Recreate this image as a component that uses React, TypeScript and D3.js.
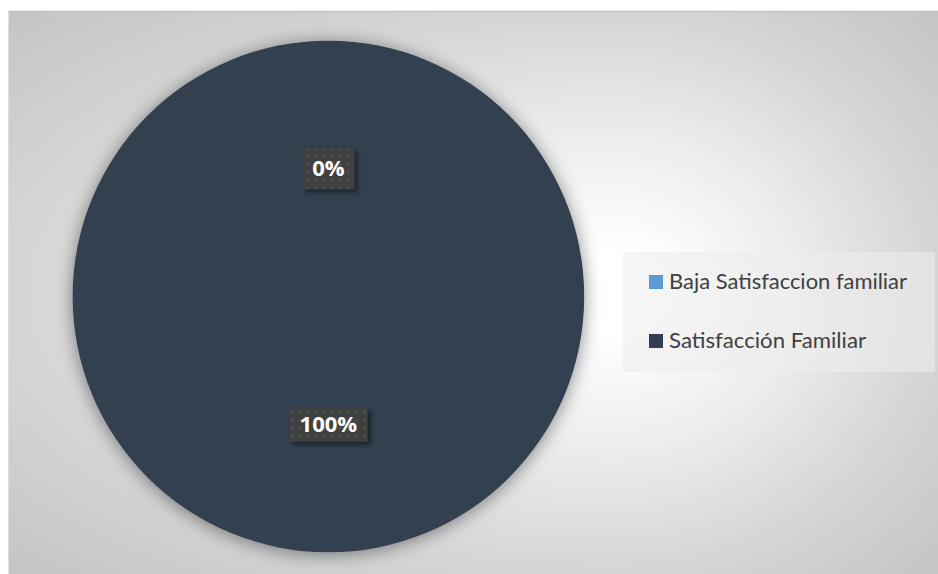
import React from "react";
import * as d3 from "d3";

const categories = ["Baja Satisfaccion familiar", "Satisfacción Familiar"];
const values = [0, 100];
const labels = ["0%", "100%"];
const colors = ["#5b9bd5", "#333f50"];

const W = 938;
const H = 574;
const CX = 328.4;
const CY = 296.5;
const R = 255.8;
const LABEL_BOX_H = [41, 34];
const LEGEND_TEXT_W = [238, 197];

const gCx = 615;
const gCy = 292;
const K = 1.42;

export default function App() {
  const pie = d3.pie<number>().value((d) => d).sort(null);
  const arcs = pie(values);
  const arc = d3.arc<d3.PieArcDatum<number>>().innerRadius(0).outerRadius(R);

  const quads = [
    { id: "tl", x: 8, y: 11, w: gCx - 8, h: gCy - 11, rx: gCx - 8, ry: gCy - 11 },
    { id: "tr", x: gCx, y: 11, w: W - gCx, h: gCy - 11, rx: W - gCx, ry: gCy - 11 },
    { id: "bl", x: 8, y: gCy, w: gCx - 8, h: H - gCy, rx: gCx - 8, ry: H - gCy },
    { id: "br", x: gCx, y: gCy, w: W - gCx, h: H - gCy, rx: W - gCx, ry: H - gCy },
  ];

  const stops = (
    <>
      <stop offset="0" stopColor="#ffffff" />
      <stop offset="0.1" stopColor="#ffffff" />
      <stop offset="0.4" stopColor="#ececec" />
      <stop offset="0.7" stopColor="#d5d5d5" />
      <stop offset="1" stopColor="#c4c4c4" />
    </>
  );

  return (
    <svg
      width={W}
      height={H}
      style={{ position: "fixed", left: 0, top: 0, display: "block" }}
      xmlns="http://www.w3.org/2000/svg"
    >
      <defs>
        {quads.map((q) => (
          <radialGradient
            key={q.id}
            id={"bg-" + q.id}
            gradientUnits="userSpaceOnUse"
            cx={0}
            cy={0}
            r={1}
            gradientTransform={`translate(${gCx},${gCy}) scale(${q.rx * K},${q.ry * K})`}
          >
            {stops}
          </radialGradient>
        ))}
        <filter id="pieShadow" x="-20%" y="-20%" width="140%" height="140%">
          <feDropShadow dx="0" dy="2" stdDeviation="9" floodColor="#000" floodOpacity="0.45" />
        </filter>
        <filter id="boxShadow" x="-30%" y="-30%" width="160%" height="160%">
          <feDropShadow dx="3" dy="3" stdDeviation="2.5" floodColor="#000" floodOpacity="0.5" />
        </filter>
        <pattern id="dots" width="8" height="8" patternUnits="userSpaceOnUse">
          <rect width="8" height="8" fill="#404040" />
          <rect x="3" y="3" width="2" height="2" fill="#575757" />
        </pattern>
      </defs>

      <rect x={0} y={0} width={W} height={H} fill="#ffffff" />
      {quads.map((q) => (
        <rect key={q.id} x={q.x} y={q.y} width={q.w} height={q.h} fill={`url(#bg-${q.id})`} />
      ))}
      <line x1={8} y1={11.5} x2={W} y2={11.5} stroke="#c0c0c0" strokeWidth={1.5} />
      <line x1={8.5} y1={11} x2={8.5} y2={H} stroke="#dedede" strokeWidth={1} />

      <g transform={`translate(${CX},${CY})`}>
        <g filter="url(#pieShadow)">
          {arcs.map((a, i) => (
            <path key={i} d={arc(a) || ""} fill={colors[i]} />
          ))}
        </g>
        {arcs.map((a, i) => {
          const [lx, ly] = arc.centroid(a);
          const fs = 22;
          const tw = labels[i].length * 0.6 * fs + (labels[i].includes("%") ? 0.25 * fs : 0);
          const bw = tw + 20;
          const bh = LABEL_BOX_H[i];
          return (
            <g key={"l" + i} transform={`translate(${lx},${ly})`}>
              <rect
                x={-bw / 2}
                y={-bh / 2}
                width={bw}
                height={bh}
                fill="url(#dots)"
                filter="url(#boxShadow)"
              />
              <text
                x={0}
                y={0}
                dy="0.35em"
                textAnchor="middle"
                fill="#ffffff"
                fontFamily="'Open Sans', 'Noto Sans', sans-serif"
                fontWeight={700}
                fontSize={fs}
              >
                {labels[i]}
              </text>
            </g>
          );
        })}
      </g>

      <g>
        <rect x={623} y={252} width={312} height={120} fill="#ededed" fillOpacity={0.56} />
        {categories.map((c, i) => (
          <g key={c} transform={`translate(649,${275 + i * 59})`}>
            <rect x={0} y={0} width={14} height={14} fill={colors[i]} />
            <text
              x={20}
              y={14}
              fill="#404040"
              fontFamily="Lato, 'Open Sans', sans-serif"
              fontSize={21}
              textLength={LEGEND_TEXT_W[i]}
              lengthAdjust="spacingAndGlyphs"
            >
              {c}
            </text>
          </g>
        ))}
      </g>
    </svg>
  );
}
